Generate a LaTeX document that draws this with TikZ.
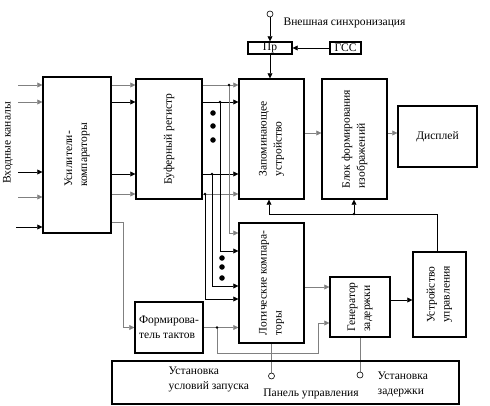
\documentclass[tikz,border=0pt]{standalone}
\usepackage{fontspec}
\setmainfont{Liberation Serif}
\usepackage{tikz}
\usetikzlibrary{arrows.meta}
\pgfdeclarelayer{bg}
\pgfsetlayers{bg,main}
\tikzset{
        every node/.style={font=\fontsize{11.5pt}{15pt}\selectfont},
        blk/.style={draw, line width=1.4pt, inner sep=0pt},
        vtext/.style={rotate=90, align=left},
        wire/.style={line width=0.7pt, -{Triangle[length=5pt,width=5pt]}},
        gwire/.style={wire, draw=black!50},
        line/.style={line width=0.7pt},
        gline/.style={line, draw=black!50},
        port/.style={circle, draw, line width=0.6pt, fill=white, minimum size=6pt, inner sep=0pt},
        jdot/.style={circle, fill, minimum size=2.6pt, inner sep=0pt},
        bdot/.style={circle, fill, minimum size=5.5pt, inner sep=0pt}
}

\begin{document}
\begin{tikzpicture}
        \useasboundingbox (0,0) rectangle (17.150000cm, -14.210000cm);
        \node (amp) [blk, minimum width=2.380000cm, minimum height=5.460000cm,
                label={[vtext]center:{Усилители-\\компараторы}}] at (2.695000cm, -5.425000cm) {};
        \node (buf) [blk, minimum width=2.310000cm, minimum height=4.200000cm,
                label={[vtext]center:{Буферный регистр}}] at (5.915000cm, -4.865000cm) {};
        \node (mem) [blk, minimum width=2.275000cm, minimum height=4.200000cm,
                label={[vtext]center:{Запоминающее\\устройство}}] at (9.502500cm, -4.865000cm) {};
        \node (img) [blk, minimum width=2.275000cm, minimum height=4.200000cm,
                label={[vtext]center:{Блок формирования\\изображений}}] at (12.407500cm, -4.865000cm) {};
        \node (disp) [blk, minimum width=2.765000cm, minimum height=2.135000cm] at (15.312500cm, -4.777500cm) {Дисплей};
        \node (pr) [blk, minimum width=1.540000cm, minimum height=0.420000cm] at (9.450000cm, -1.680000cm) {Пр};
        \node (gss) [blk, minimum width=1.085000cm, minimum height=0.420000cm] at (12.092500cm, -1.680000cm) {ГСС};
        \node (lc) [blk, minimum width=2.275000cm, minimum height=4.200000cm,
                label={[vtext]center:{Логические компара-\\торы}}] at (9.502500cm, -9.905000cm) {};
        \node (dly) [blk, minimum width=2.100000cm, minimum height=2.100000cm,
                label={[vtext]center:{Генератор\\задержки}}] at (12.600000cm, -10.745000cm) {};
        \node (ctl) [blk, minimum width=1.855000cm, minimum height=2.975000cm,
                label={[vtext]center:{Устройство\\управления}}] at (15.382500cm, -10.307500cm) {};
        \node (frm) [blk, minimum width=2.380000cm, minimum height=1.785000cm, align=left] at (5.915000cm, -11.462500cm)
{Формирова-\\тель тактов};
        \node (pnl) [blk, minimum width=12.145000cm, minimum height=1.505000cm] at (9.992500cm, -13.387500cm) {};

        \node (lbl0) [rotate=90] at (0.280000cm, -5.005000cm) {Входные каналы};
        \node (lbl1) [anchor=west] at (9.800000cm, -0.805000cm) {Внешная синхронизация};
        \node (lbl2) [anchor=west, align=left] at (5.780000cm, -13.265000cm) {Установка\\условий запуска};
        \node (lbl3) at (10.885000cm, -13.790000cm) {Панель управления};
        \node (lbl4) [anchor=west, align=left] at (13.095000cm, -13.440000cm) {Установка\\задержки};

        \node (s0) [port] at (9.502500cm, -13.160000cm) {};
        \node (s1) [port] at (12.600000cm, -13.125000cm) {};
        \node (s2) [port] at (9.450000cm, -0.490000cm) {};

        % inputs and rows
        \coordinate (i0) at (0.630000cm, -2.975000cm);
        \coordinate (i1) at (0.630000cm, -3.570000cm);
        \coordinate (i2) at (0.630000cm, -6.020000cm);
        \coordinate (i3) at (0.630000cm, -6.895000cm);
        \coordinate (i4) at (0.560000cm, -7.945000cm);
        \coordinate (r0) at (0cm, -2.975000cm);
        \coordinate (r1) at (0cm, -3.570000cm);
        \coordinate (r2) at (0cm, -6.090000cm);
        \coordinate (r3) at (0cm, -6.790000cm);
        \coordinate (t0) at (8.015000cm, -2.975000cm);
        \coordinate (t1) at (7.700000cm, -3.570000cm);
        \coordinate (t2) at (7.420000cm, -6.090000cm);
        \coordinate (t3) at (7.175000cm, -6.790000cm);
        \coordinate (l0) at (0cm, -8.155000cm);
        \coordinate (l1) at (0cm, -8.785000cm);
        \coordinate (l2) at (0cm, -10.010000cm);
        \coordinate (l3) at (0cm, -10.465000cm);
        \coordinate (h0) at (0cm, -4.655000cm);
        \coordinate (m0) at (0cm, -10.045000cm);
        \coordinate (m1) at (0cm, -10.500000cm);
        \coordinate (a0) at (4.305000cm, -7.770000cm);
        \coordinate (k0) at (7.595000cm, -11.462500cm);
        \coordinate (k1) at (11.130000cm, -12.355000cm);
        \coordinate (k2) at (0cm, -11.305000cm);
        \coordinate (f0) at (15.295000cm, -7.490000cm);
        \coordinate (f1) at (9.415000cm, -7.490000cm);
        \coordinate (f2) at (12.390000cm, -7.490000cm);

        \node (d0) [jdot] at (t0) {};
        \node (d1) [jdot] at (t1) {};
        \node (d2) [jdot] at (t2) {};
        \node (d3) [jdot] at (t3) {};
        \node (d4) [jdot] at (k0) {};
        \node (d5) [jdot] at (f2) {};
        \node (e0) [bdot] at (7.455000cm, -3.955000cm) {};
        \node (e1) [bdot] at (7.455000cm, -4.410000cm) {};
        \node (e2) [bdot] at (7.455000cm, -4.900000cm) {};
        \node (e3) [bdot] at (7.770000cm, -9.030000cm) {};
        \node (e4) [bdot] at (7.770000cm, -9.345000cm) {};
        \node (e5) [bdot] at (7.770000cm, -9.730000cm) {};

        \begin{pgfonlayer}{bg}
                \draw (i0) edge [gwire] (i0 -| amp.west);
                \draw (i1) edge [gwire] (i1 -| amp.west);
                \draw (i2) edge [wire] (i2 -| amp.west);
                \draw (i3) edge [gwire] (i3 -| amp.west);
                \draw (i4) edge [wire] (i4 -| amp.west);
                \draw (r0 -| amp.east) edge [gwire] (r0 -| buf.west);
                \draw (r1 -| amp.east) edge [wire] (r1 -| buf.west);
                \draw (r2 -| amp.east) edge [wire] (r2 -| buf.west);
                \draw (r3 -| amp.east) edge [gwire] (r3 -| buf.west);
                \draw (r0 -| buf.east) edge [gwire] (r0 -| mem.west);
                \draw (r1 -| buf.east) edge [wire] (r1 -| mem.west);
                \draw (r2 -| buf.east) edge [wire] (r2 -| mem.west);
                \draw (r3 -| buf.east) edge [gwire] (r3 -| mem.west);
                \draw [gwire] (t0) |- (l0 -| lc.west);
                \draw [wire] (t1) |- (l1 -| lc.west);
                \draw [wire] (t2) |- (l2 -| lc.west);
                \draw [wire] (t3) |- (l3 -| lc.west);
                \draw (h0 -| mem.east) edge [gwire] (h0 -| img.west);
                \draw (h0 -| img.east) edge [gwire] (h0 -| disp.west);
                \draw (s2) edge [wire] (pr);
                \draw (gss) edge [wire] (pr);
                \draw (pr.south) edge [wire] (pr.south |- mem.north);
                \draw [gwire] (a0 -| amp.east) -- (a0) |- (frm.west);
                \draw (frm.east) edge [gwire] (frm.east -| lc.west);
                \draw [gwire] (k0) |- (k1) |- (k2 -| dly.west);
                \draw (m0 -| lc.east) edge [gwire] (m0 -| dly.west);
                \draw (m1 -| dly.east) edge [wire] (m1 -| ctl.west);
                \draw [wire] (f0 |- ctl.north) -- (f0) -- (f1) -- (f1 |- mem.south);
                \draw (f2) edge [wire] (f2 |- img.south);
                \draw (lc.south) edge [gline] (s0);
                \draw (dly.south) edge [gline] (s1);
        \end{pgfonlayer}
\end{tikzpicture}
\end{document}
